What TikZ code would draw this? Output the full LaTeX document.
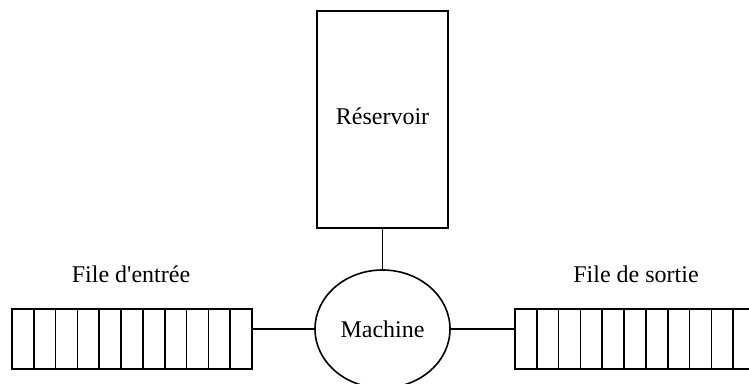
\documentclass[tikz,border=0pt]{standalone}
\usepackage{fontspec}
\setmainfont{Liberation Serif}
\usetikzlibrary{shapes.geometric}
\tikzset{
every node/.style={font=\fontsize{12}{14}\selectfont},
cell/.style={draw, line width=0.8pt, rectangle, inner sep=0, minimum width=10.91pt, minimum height=30pt},
tank/.style={draw, line width=0.8pt, rectangle, inner sep=0, minimum width=65.5pt, minimum height=108.5pt},
machine/.style={draw, line width=0.8pt, ellipse, inner sep=0, minimum width=67.5pt, minimum height=59pt}
}
\begin{document}
\begin{tikzpicture}[x=0.5pt,y=-0.5pt]
  \useasboundingbox (0,0) rectangle (749,384);
  \node[tank] (res) at (382.5,119.5) {\raisebox{3.5pt}{R\'eservoir}};
  \node[machine] (mach) at (382.5,329) {Machine};
  % files d'attente
  \foreach \i in {1,...,11} {
    \node[cell] (in\i) at ({12+21.82*(\i-0.5)},339) {};
    \node[cell] (out\i) at ({515+21.82*(\i-0.5)},339) {};
  }
  \node (lin) at (131,274) {File d\textquotesingle entr\'ee};
  \node (lout) at (636,274) {File de sortie};
  \draw[line width=0.8pt] (res.south) -- (mach.north);
  \draw[line width=0.8pt] (mach.west) -- (mach.west -| in11.east);
  \draw[line width=0.8pt] (mach.east) -- (mach.east -| out1.west);
\end{tikzpicture}
\end{document}
